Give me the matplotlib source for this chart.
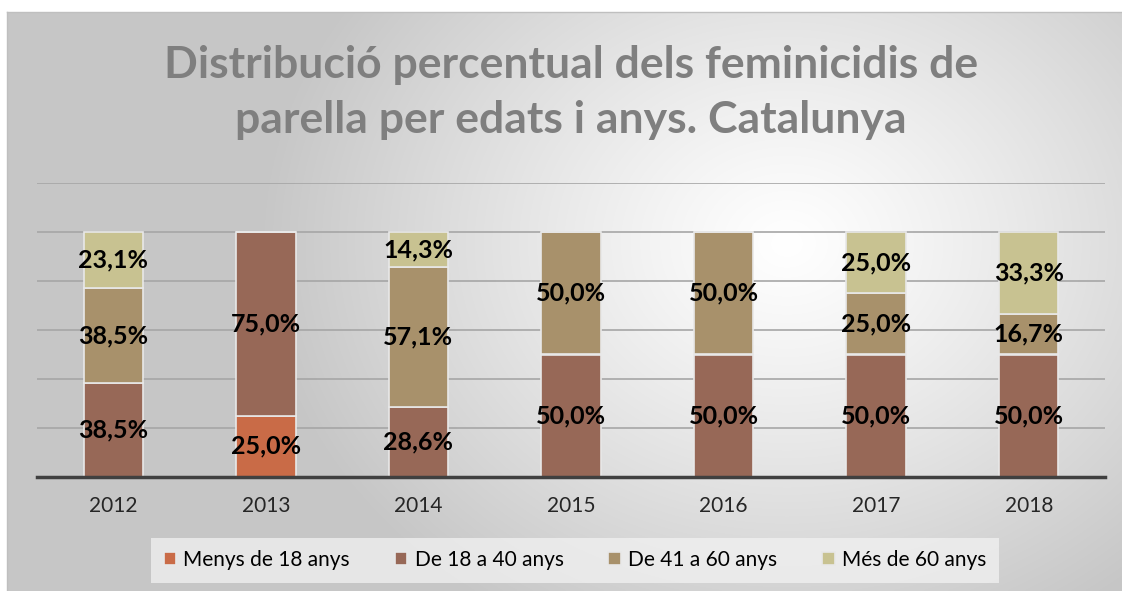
import numpy as np
import matplotlib
matplotlib.use("Agg")
import matplotlib.pyplot as plt

years = ["2012", "2013", "2014", "2015", "2016", "2017", "2018"]
series_names = ["Menys de 18 anys", "De 18 a 40 anys", "De 41 a 60 anys", "Més de 60 anys"]
menys_18 = [0.0, 25.0, 0.0, 0.0, 0.0, 0.0, 0.0]
de_18_40 = [38.5, 75.0, 28.6, 50.0, 50.0, 50.0, 50.0]
de_41_60 = [38.5, 0.0, 57.1, 50.0, 50.0, 25.0, 16.7]
mes_60 = [23.1, 0.0, 14.3, 0.0, 0.0, 25.0, 33.3]
colors = ["#C96B47", "#976857", "#A8916B", "#C8C291"]
title_lines = ["Distribució percentual dels feminicidis de", "parella per edats i anys. Catalunya"]

W, H = 1122, 591
fig = plt.figure(figsize=(W / 100, H / 100), dpi=100)
fig.patch.set_facecolor("white")

# background radial gradient
bg = fig.add_axes([7 / W, 0, (W - 7) / W, (H - 12) / H])
nx, ny = 500, 260
xx, yy = np.meshgrid(np.linspace(0, 1, nx), np.linspace(0, 1, ny))
cx, cy = 0.70, 0.40
d = np.sqrt(((xx - cx) / 0.47) ** 2 + ((yy - cy) / 0.75) ** 2)
d = np.clip(d, 0, 1)
val = 1.0 - 0.22 * d ** 1.15
img = np.dstack([val, val, val])
bg.imshow(img, aspect="auto", extent=[0, 1, 0, 1], origin="upper", interpolation="bilinear")
bg.set_xlim(0, 1)
bg.set_ylim(0, 1)
bg.set_xticks([])
bg.set_yticks([])
for s in bg.spines.values():
    s.set_color("#BFBFBF")
    s.set_linewidth(1)
bg.spines["right"].set_visible(False)
bg.spines["bottom"].set_visible(False)

ax = fig.add_axes([37 / W, 1 - 477 / H, (1105 - 37) / W, (477 - 183) / H])
ax.patch.set_alpha(0)
x = np.arange(len(years))
data = [menys_18, de_18_40, de_41_60, mes_60]
bottom = np.zeros(len(years))
for vals, col, name in zip(data, colors, series_names):
    v = np.array(vals)
    ax.bar(x, v, 0.39, bottom=bottom, color=col, edgecolor="#E8E8E8", linewidth=1.2,
           label=name, zorder=3)
    for xi, b, vi in zip(x, bottom, v):
        if vi > 0:
            ax.text(xi, b + vi / 2, f"{vi:.1f}%".replace(".", ","), ha="center", va="center",
                    fontsize=18, fontweight="bold", color="black", family="Lato", zorder=4)
    bottom = bottom + v

ax.set_xlim(-0.5, len(years) - 0.5)
ax.set_ylim(0, 120)
ax.set_yticks([0, 20, 40, 60, 80, 100, 120])
ax.yaxis.grid(True, color="#A6A6A6", linewidth=1.2, zorder=0)
ax.tick_params(axis="y", left=False, labelleft=False)
ax.set_xticks(x)
ax.set_xticklabels(years, fontsize=15, family="Lato", color="#262626")
ax.tick_params(axis="x", length=0, pad=14)
for s in ["left", "right", "top"]:
    ax.spines[s].set_visible(False)
ax.spines["bottom"].set_color("#404040")
ax.spines["bottom"].set_linewidth(2.5)
ax.spines["bottom"].set_zorder(5)

for line, yb in zip(title_lines, [78, 133]):
    fig.text(571 / W, 1 - yb / H, line, ha="center", va="baseline", fontsize=32,
             fontweight="bold", color="#7F7F7F", family="Lato")

leg = fig.legend(loc="center", bbox_to_anchor=(575 / W, 1 - 560 / H), ncol=4,
                 frameon=True, prop={"family": "Lato", "size": 15},
                 handlelength=0.6, handleheight=0.6, handletextpad=0.35, columnspacing=2.15,
                 borderpad=0.6, borderaxespad=0)
leg.get_frame().set_facecolor("#F2F2F2")
leg.get_frame().set_edgecolor("none")
leg.get_frame().set_alpha(0.75)
leg.get_frame().set_boxstyle("square", pad=0)

fig.savefig("out.png", dpi=100)
